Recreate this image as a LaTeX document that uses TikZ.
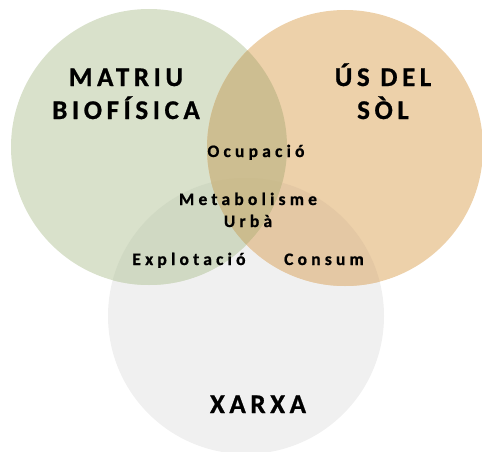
\documentclass[tikz,border=0pt]{standalone}
\usepackage{fontspec}
\setmainfont{Carlito}
\newfontfamily\titlefont[LetterSpace=17, FakeBold=0.8]{Carlito Bold}
\newfontfamily\smallfont[LetterSpace=24, FakeBold=0.8]{Carlito Bold}
\definecolor{matriu}{HTML}{D9E1CB}
\definecolor{sol}{HTML}{EDD1AA}
\definecolor{xarxa}{HTML}{F0F0F0}
\definecolor{matriusol}{HTML}{CDBE91}
\definecolor{matriuxarxa}{HTML}{D0D9C3}
\definecolor{solxarxa}{HTML}{E4C8A4}
\definecolor{centre}{HTML}{CBBC8E}
\tikzset{
  title/.style={align=center, font={\titlefont\fontsize{27}{33}\selectfont}, inner sep=0pt, anchor=base},
  label/.style={align=center, font={\smallfont\fontsize{17.5}{22}\selectfont}, inner sep=0pt, anchor=base},
}

\begin{document}
\begin{tikzpicture}[x=1pt,y=-1pt]
\useasboundingbox (0,0) rectangle (482,452);
\fill[xarxa] (246,316) circle (138);
\fill[matriu] (149,147) circle (138);
\fill[sol] (345,148) circle (138);
\begin{scope}
  \clip (149,147) circle (138);
  \fill[matriuxarxa] (246,316) circle (138);
  \fill[matriusol] (345,148) circle (138);
  \clip (345,148) circle (138);
  \fill[centre] (246,316) circle (138);
\end{scope}
\begin{scope}
  \clip (345,148) circle (138);
  \clip (246,316) circle (138);
  \fill[solxarxa] (149,147) circle (138) [even odd rule] (0,0) rectangle (482,452);
\end{scope}

\node[title](matriutxt) at (126,119){MATRIU\\BIOFÍSICA};
\node[title](soltxt) at (383,119){ÚS DEL\\SÒL};
\node[title](xarxatxt) at (258,413){XARXA};

\node[label](ocupacio) at (256,157){Ocupació};
\node[label](metab) at (248,227){Metabolisme\\Urbà};
\node[label](explot) at (189,265){Explotació};
\node[label](consum) at (324,265){Consum};
\end{tikzpicture}
\end{document}
